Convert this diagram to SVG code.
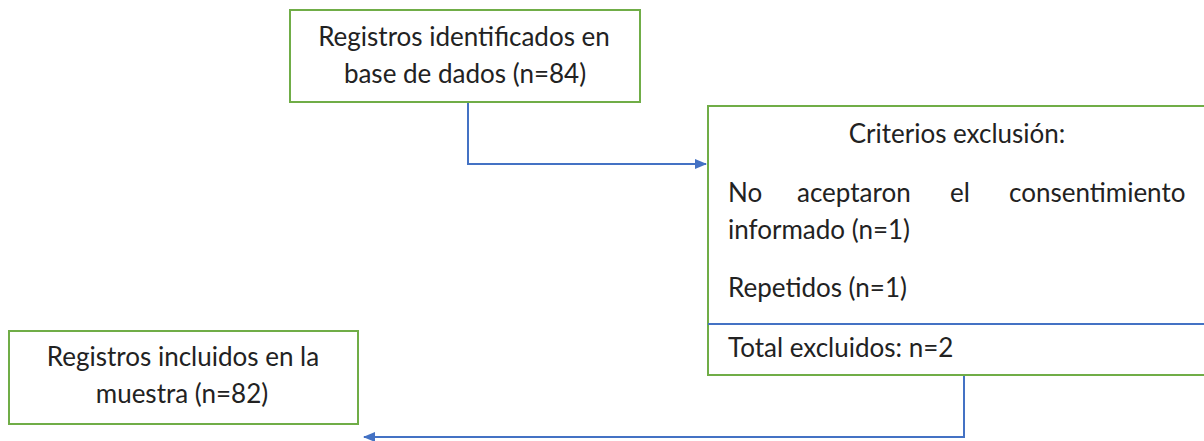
<svg xmlns="http://www.w3.org/2000/svg" width="1204" height="441" viewBox="0 0 1204 441">
<style>
.box{fill:#fff;stroke:#70AD47;stroke-width:2}
.t{font-family:Lato,"Open Sans","Liberation Sans",sans-serif;font-size:26px;fill:#222}
.c{text-anchor:middle}
.ln{fill:none;stroke:#4472C4;stroke-width:2}
</style>
<defs>
<marker id="ah" markerWidth="12" markerHeight="10" refX="11" refY="5" orient="auto" markerUnits="userSpaceOnUse">
<path d="M0,0 L12,5 L0,10 Z" fill="#4472C4"/>
</marker>
</defs>
<rect width="1204" height="441" fill="#fff"/>
<g id="connectors">
<path class="ln" d="M468,102 V164 H706" marker-end="url(#ah)"/>
<path class="ln" d="M964,375 V437 H364" marker-end="url(#ah)"/>
</g>
<g id="node-identificados">
<rect class="box" x="290" y="10" width="350" height="92"/>
<text class="t c" x="464" y="46">Registros identificados en</text>
<text class="t c" x="465" y="83">base de dados (n=84)</text>
</g>
<g id="node-exclusion">
<rect class="box" x="708" y="106" width="500" height="269"/>
<line x1="708" y1="324" x2="1204" y2="324" stroke="#4472C4" stroke-width="2"/>
<text class="t c" x="957" y="143">Criterios exclusión:</text>
<text class="t" y="202"><tspan x="728">No</tspan><tspan x="797">aceptaron</tspan><tspan x="950">el</tspan><tspan x="1009">consentimiento</tspan></text>
<text class="t" x="728" y="239">informado (n=1)</text>
<text class="t" x="728" y="297">Repetidos (n=1)</text>
<text class="t" x="728" y="357">Total excluidos: n=2</text>
</g>
<g id="node-incluidos">
<rect class="box" x="9" y="331" width="349" height="93"/>
<text class="t c" x="183" y="366">Registros incluidos en la</text>
<text class="t c" x="182" y="403">muestra (n=82)</text>
</g>
</svg>
